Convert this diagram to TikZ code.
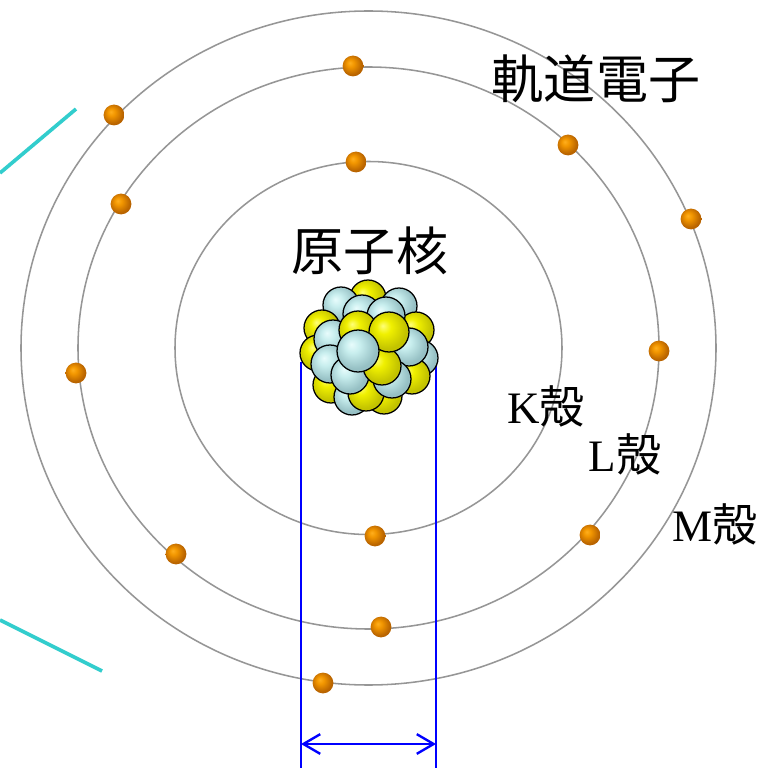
\documentclass[tikz,border=0pt]{standalone}
\usepackage{fontspec}
\setmainfont{Liberation Serif}
\newfontfamily\jpfont{Noto Sans CJK JP}
\usetikzlibrary{arrows.meta}

\definecolor{schalegrau}{RGB}{150,150,150}
\definecolor{massblau}{RGB}{0,0,255}
\definecolor{strahlcyan}{RGB}{50,205,205}
\definecolor{elHi}{RGB}{255,175,30}
\definecolor{elMid}{RGB}{242,150,0}
\definecolor{elLo}{RGB}{185,100,0}
\definecolor{geHi}{RGB}{255,255,120}
\definecolor{geMid}{RGB}{240,240,0}
\definecolor{geLo}{RGB}{195,195,0}
\definecolor{tuHi}{RGB}{232,252,252}
\definecolor{tuMid}{RGB}{200,238,238}
\definecolor{tuLo}{RGB}{150,192,196}

\pgfdeclareradialshading{elkugel}{\pgfpoint{-8bp}{8bp}}{color(0bp)=(elHi); color(9bp)=(elMid); color(25bp)=(elLo); color(50bp)=(elLo)}
\pgfdeclareradialshading{gelb}{\pgfpoint{-8bp}{8bp}}{color(0bp)=(geHi); color(9bp)=(geMid); color(25bp)=(geLo); color(50bp)=(geLo)}
\pgfdeclareradialshading{tuerkis}{\pgfpoint{-8bp}{8bp}}{color(0bp)=(tuHi); color(9bp)=(tuMid); color(25bp)=(tuLo); color(50bp)=(tuLo)}

\tikzset{
  schale/.style={draw=schalegrau, line width=1.1pt},
  elektron/.style={circle, minimum size=0.52cm, inner sep=0pt, shading=elkugel},
  masslinie/.style={draw=massblau, line width=1.7pt},
  strahl/.style={draw=strahlcyan, line width=2.6pt},
  titel/.style={font=\jpfont\fontsize{37}{40}\selectfont, inner sep=0pt},
  schalenname/.style={font=\fontsize{32}{34}\selectfont, inner sep=0pt}
}

\begin{document}
\begin{tikzpicture}[x=0.025cm, y=-0.025cm]
  \useasboundingbox (0,0) rectangle (778,768);

  % Strahlen links
  \coordinate (s1a) at (0,173);  \coordinate (s1b) at (76,109);
  \coordinate (s2a) at (0,620);  \coordinate (s2b) at (102,671);
  \draw[strahl] (s1a) -- (s1b);
  \draw[strahl] (s2a) -- (s2b);

  % Schalen K, L, M
  \draw[schale] (368.5,348) ellipse (193.5 and 186.5);
  \draw[schale] (368.5,348) ellipse (290.5 and 281);
  \draw[schale] (368.5,348) ellipse (347.5 and 337);

  % Durchmesser des Kerns
  \coordinate (d1) at (301,362); \coordinate (d1u) at (301,768);
  \coordinate (d2) at (436,362); \coordinate (d2u) at (436,768);
  \coordinate (p1) at (301,744); \coordinate (p2) at (436,744);
  \draw[masslinie] (d1) -- (d1u);
  \draw[masslinie] (d2) -- (d2u);
  \draw[masslinie, {Straight Barb[length=12pt, width=14pt]}-{Straight Barb[length=12pt, width=14pt]}] (p1) -- (p2);

  % Kern
  \foreach \x/\y/\s/\r in {
      368/298/gelb/18, 341/305/tuerkis/18, 399/306/tuerkis/18,
      416/330/gelb/18, 322/328/gelb/18, 318/353/gelb/18,
      420/358/tuerkis/18, 412/376/gelb/18, 331/385/gelb/18,
      352/397/tuerkis/18, 384/396/gelb/18, 366/393/gelb/18,
      362/314/tuerkis/19, 386/316/tuerkis/19, 333/339/tuerkis/19,
      358/330/gelb/19, 409/347/tuerkis/19, 330/364/tuerkis/19,
      350/375/tuerkis/19, 392/379/tuerkis/19, 382/366/gelb/19,
      389/332/gelb/20, 358/351/tuerkis/21}
    \shadedraw[shading=\s, draw=black, line width=0.9pt] (\x,\y) circle (\r);

  % Elektronen
  \node[elektron] (k1) at (356,162) {};
  \node[elektron] (k2) at (375,536) {};
  \node[elektron] (l1) at (353,66) {};
  \node[elektron] (l2) at (121,204) {};
  \node[elektron] (l3) at (568,145) {};
  \node[elektron] (l4) at (659,351) {};
  \node[elektron] (l5) at (76,373) {};
  \node[elektron] (l6) at (176,554) {};
  \node[elektron] (l7) at (381,627) {};
  \node[elektron] (l8) at (590,535) {};
  \node[elektron] (m1) at (114,115) {};
  \node[elektron] (m2) at (691,219) {};
  \node[elektron] (m3) at (323,683) {};

  % Beschriftung
  \node[titel] (bahn) at (596,79) {軌道電子};
  \node[titel] (kern) at (370,251) {原子核};
  \node[schalenname] (kname) at (546,406) {K{\jpfont 殻}};
  \node[schalenname] (lname) at (625,454) {L{\jpfont 殻}};
  \node[schalenname] (mname) at (715,524) {M{\jpfont 殻}};
\end{tikzpicture}
\end{document}
